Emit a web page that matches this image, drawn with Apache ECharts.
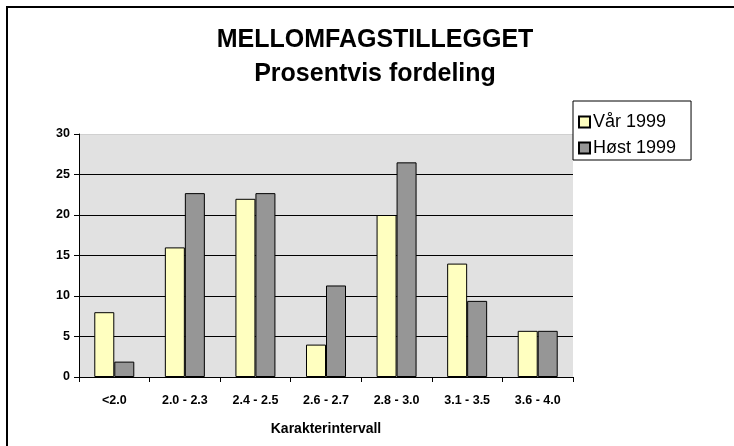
<!DOCTYPE html>
<html>
<head>
<meta charset="utf-8">
<script src="https://cdn.jsdelivr.net/npm/echarts@6/dist/echarts.min.js"></script>
<style>html,body{margin:0;padding:0;background:#fff;}#c{width:734px;height:446px;}</style>
</head>
<body>
<div id="c"></div>
<script>
const categories = ['<2.0', '2.0 - 2.3', '2.4 - 2.5', '2.6 - 2.7', '2.8 - 3.0', '3.1 - 3.5', '3.6 - 4.0'];
const var1999 = [8.0, 16.0, 22.0, 4.0, 20.0, 14.0, 5.7];
const host1999 = [1.9, 22.7, 22.7, 11.3, 26.5, 9.4, 5.7];
const seriesNames = ['Vår 1999', 'Høst 1999'];
const yTicks = [0, 5, 10, 15, 20, 25, 30];

const FONT = 'Liberation Sans, Arial, sans-serif';
const chart = echarts.init(document.getElementById('c'));
chart.setOption({
  animation: false,
  backgroundColor: '#fff',
  title: {
    text: 'MELLOMFAGSTILLEGGET\nProsentvis fordeling',
    left: 370, top: 18, textAlign: 'center',
    textStyle: { fontFamily: FONT, fontSize: 25, fontWeight: 'bold', color: '#000', lineHeight: 34 }
  },
  legend: {
    orient: 'vertical', left: 573, top: 101,
    backgroundColor: '#fff', borderColor: '#000', borderWidth: 1, borderRadius: 0,
    padding: [11, 15, 2, 5],
    itemWidth: 11, itemHeight: 11, itemGap: 6,
    textStyle: { fontFamily: FONT, fontSize: 18, color: '#000', lineHeight: 20, padding: [0, 0, 0, -2] },
    data: seriesNames.map(n => ({ name: n, icon: 'rect' }))
  },
  grid: {
    left: 79, top: 134, right: 161, bottom: 69,
    show: true, backgroundColor: '#e1e1e1', borderWidth: 0
  },
  xAxis: {
    type: 'category', data: categories,
    axisLine: { lineStyle: { color: '#000', width: 1 } },
    axisTick: { show: true, length: 5, lineStyle: { color: '#000' } },
    axisLabel: { fontFamily: FONT, fontSize: 12.5, fontWeight: 'bold', color: '#000', margin: 17, interval: 0 },
    name: 'Karakterintervall', nameLocation: 'middle', nameGap: 45,
    nameTextStyle: { fontFamily: FONT, fontSize: 14, fontWeight: 'bold', color: '#000' }
  },
  yAxis: {
    type: 'value', min: yTicks[0], max: yTicks[yTicks.length - 1], interval: 5,
    axisLine: { show: true, lineStyle: { color: '#000', width: 1 } },
    axisTick: { show: true, length: 5, lineStyle: { color: '#000' } },
    axisLabel: { fontFamily: FONT, fontSize: 12.5, fontWeight: 'bold', color: '#000', margin: 9 },
    splitLine: { show: true, lineStyle: { color: ['#000', '#000', '#000', '#000', '#000', '#000', '#d0d0d0'], width: 1 } }
  },
  series: [
    {
      name: seriesNames[0], type: 'bar', data: var1999,
      barWidth: 20, barGap: '0%',
      itemStyle: { color: '#ffffc0', borderColor: '#000', borderWidth: 1 }
    },
    {
      name: seriesNames[1], type: 'bar', data: host1999,
      barWidth: 20, barGap: '0%',
      itemStyle: { color: '#969696', borderColor: '#000', borderWidth: 1 }
    }
  ],
  graphic: [
    { type: 'line', shape: { x1: 6, y1: 7, x2: 734, y2: 7 }, style: { stroke: '#000', lineWidth: 2 } },
    { type: 'line', shape: { x1: 7, y1: 6, x2: 7, y2: 446 }, style: { stroke: '#000', lineWidth: 2 } }
  ]
});
</script>
</body>
</html>
